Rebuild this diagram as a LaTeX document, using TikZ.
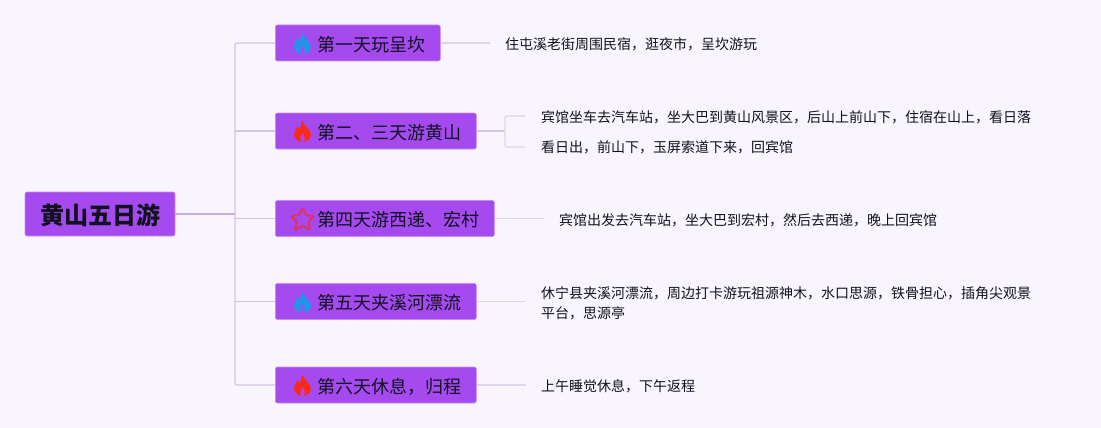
\documentclass[tikz,border=0pt]{standalone}
\usepackage{fontspec}
\setmainfont{Noto Sans CJK SC}
\definecolor{bg}{HTML}{F8F5FE}
\definecolor{boxfill}{HTML}{A44AEE}
\definecolor{boxedge}{HTML}{C88DF3}
\definecolor{ink}{HTML}{111122}
\definecolor{linkroot}{HTML}{C8AEDF}
\definecolor{linkA}{HTML}{D5C3E8}
\definecolor{linkB}{HTML}{DDD6EE}
\definecolor{flameblue}{HTML}{2196E8}
\definecolor{flamered}{HTML}{FA2A18}
\definecolor{starred}{HTML}{E8304E}
\tikzset{
  rootbox/.style={draw=boxedge,fill=boxfill,rounded corners=2pt,line width=.6pt,inner sep=0pt},
  topicbox/.style={draw=boxedge,fill=boxfill,rounded corners=2pt,line width=.6pt,inner sep=0pt,anchor=west},
  rootlabel/.style={inner sep=0pt,font=\bfseries\fontsize{24}{28}\selectfont,text=ink},
  topiclabel/.style={inner sep=0pt,anchor=west,font=\fontsize{18}{22}\selectfont,text=ink},
  detail/.style={anchor=west,inner sep=0pt,align=left,font=\fontsize{14}{20}\selectfont,text=ink},
  link/.style={draw=linkA,line width=1.4pt},
  sublink/.style={draw=linkB,line width=1.4pt}
}
\newcommand{\flameicon}[3]{% centre x, centre y, colour
  \fill[#3,even odd rule,shift={(#1,#2)}]
    (-0.5,-10.5) .. controls (0.5,-6) and (8.5,-1.5) .. (8.5,3.5)
    .. controls (8.5,7.5) and (5,10) .. (1.5,10.5)
    .. controls (3,8) and (2.5,5.5) .. (0,2)
    .. controls (-2.5,5.5) and (-3,8) .. (-1.5,10.5)
    .. controls (-5,10) and (-8.5,7.5) .. (-8.5,3.5)
    .. controls (-8.5,0) and (-6.5,-2) .. (-5,-5)
    .. controls (-4.2,-3.5) and (-3.8,-3) .. (-3.5,-2)
    .. controls (-1.5,-4) and (-0.5,-7) .. (-0.5,-10.5) -- cycle;}
\begin{document}
\begin{tikzpicture}[x=1pt,y=-1pt]
\useasboundingbox[fill=bg] (0,0) rectangle (1101,428);
% connector anchors
\coordinate (hub) at (235,214);
\coordinate (e1) at (490,43);
\coordinate (e2a) at (525,116);
\coordinate (e2b) at (525,147);
\coordinate (e3) at (544,218.5);
\coordinate (e4) at (526,301.5);
\coordinate (e5) at (526,385);
\coordinate (fork) at (505,131);
% topics
\node[rootbox,minimum width=150pt,minimum height=44pt] (root) at (100,214) {};
\node[topicbox,minimum width=165pt,minimum height=36pt] (t1) at (275,43) {};
\node[topicbox,minimum width=201pt,minimum height=36pt] (t2) at (275,131) {};
\node[topicbox,minimum width=219pt,minimum height=36pt] (t3) at (275,218.5) {};
\node[topicbox,minimum width=201pt,minimum height=36pt] (t4) at (275,301.5) {};
\node[topicbox,minimum width=201pt,minimum height=36pt] (t5) at (275,385) {};
\node[rootlabel] (l0) at (100.5,215.5) {黄山五日游};
\node[topiclabel] (l1) at (317,44.5) {第一天玩呈坎};
\node[topiclabel] (l2) at (317,132.5) {第二、三天游黄山};
\node[topiclabel] (l3) at (317,220) {第四天游西递、宏村};
\node[topiclabel] (l4) at (317,303) {第五天夹溪河漂流};
\node[topiclabel] (l5) at (317,386.5) {第六天休息，归程};
% details
\node[detail] (d1) at (505,44) {住屯溪老街周围民宿，逛夜市，呈坎游玩};
\node[detail] (d2a) at (541,117) {宾馆坐车去汽车站，坐大巴到黄山风景区，后山上前山下，住宿在山上，看日落};
\node[detail] (d2b) at (541,147) {看日出，前山下，玉屏索道下来，回宾馆};
\node[detail] (d3) at (559,220) {宾馆出发去汽车站，坐大巴到宏村，然后去西递，晚上回宾馆};
\node[detail] (d4) at (541,303) {休宁县夹溪河漂流，周边打卡游玩祖源神木，水口思源，铁骨担心，插角尖观景\\平台，思源亭};
\node[detail] (d5) at (541,386) {上午睡觉休息，下午返程};
% connectors
\draw[link,rounded corners=1.5pt] (t1.west) -- (hub |- t1.west) -- (hub |- t5.west) -- (t5.west);
\draw[draw=linkroot,line width=1.4pt] (root.east) -- (hub);
\draw[link] (hub |- t2.west) -- (t2.west);
\draw[link] (hub |- t3.west) -- (t3.west);
\draw[link] (hub |- t4.west) -- (t4.west);
\draw[sublink] (t1.east) -- (t1.east -| e1);
\draw[link] (t2.east) -- (t2.east -| fork);
\draw[sublink,rounded corners=1.5pt] (e2a) -- (fork |- e2a) -- (fork |- e2b) -- (e2b);
\draw[sublink] (t3.east) -- (t3.east -| e3);
\draw[sublink] (t4.east) -- (t4.east -| e4);
\draw[sublink] (t5.east) -- (t5.east -| e5);
% icons
\flameicon{302.5}{43}{flameblue}
\flameicon{302.5}{131}{flamered}
\flameicon{302.5}{302}{flameblue}
\flameicon{302.5}{385}{flamered}
\draw[starred,line width=1.8pt,line join=round,rounded corners=1.2pt,shift={(302.5,219.5)}]
  (0,-12) -- (3.6,-4.2) -- (12,-3.4) -- (5.6,2.2) -- (7.6,11) -- (0,6.2) -- (-7.6,11) -- (-5.6,2.2) -- (-12,-3.4) -- (-3.6,-4.2) -- cycle;
\end{tikzpicture}
\end{document}
